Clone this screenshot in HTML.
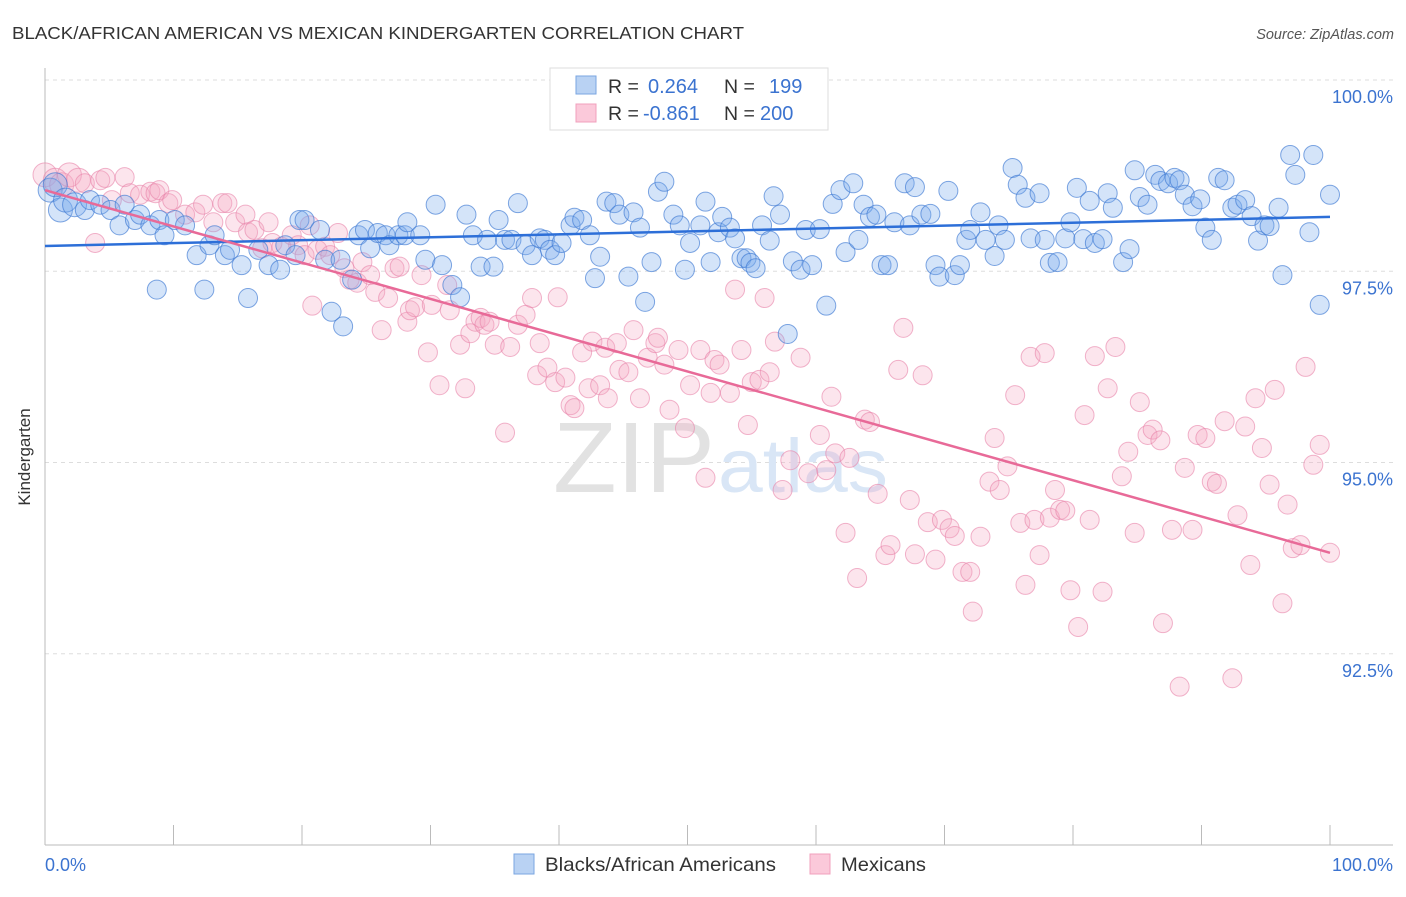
<!DOCTYPE html>
<html><head><meta charset="utf-8"><style>
body{margin:0;background:#fff;font-family:"Liberation Sans",sans-serif;}
svg text{font-family:"Liberation Sans",sans-serif;}
</style></head><body>
<svg id="chart" width="1406" height="892" xmlns="http://www.w3.org/2000/svg">
<text x="12" y="39" font-size="17.5" fill="#333" textLength="732" lengthAdjust="spacingAndGlyphs">BLACK/AFRICAN AMERICAN VS MEXICAN KINDERGARTEN CORRELATION CHART</text>
<text x="1394" y="39" font-size="14.5" fill="#555" font-style="italic" text-anchor="end">Source: ZipAtlas.com</text>
<g id="grid"></g>
<text x="553" y="492" font-size="100" font-family="Liberation Serif" fill="#e2e2e2" textLength="162" lengthAdjust="spacingAndGlyphs">ZIP</text>
<text x="718" y="492" font-size="76" fill="#d9e6f6" textLength="170" lengthAdjust="spacingAndGlyphs">atlas</text>
<g id="marks"></g>
<text x="30" y="457" font-size="17" fill="#333" text-anchor="middle" transform="rotate(-90 30 457)">Kindergarten</text>
<g>
<rect x="550" y="68" width="278" height="62" fill="#fff" stroke="#ddd"/>
<rect x="576" y="76" width="20" height="18" fill="#b9d2f3" stroke="#7aa6e2"/>
<rect x="576" y="104" width="20" height="18" fill="#fbc9da" stroke="#f0a0bc"/>
<text x="608" y="93" font-size="19.5" fill="#333">R =</text>
<text x="648" y="93" font-size="20" fill="#3b73d0">0.264</text>
<text x="724" y="93" font-size="19.5" fill="#333">N =</text>
<text x="769" y="93" font-size="20" fill="#3b73d0">199</text>
<text x="608" y="120" font-size="19.5" fill="#333">R =</text>
<text x="643" y="120" font-size="20" fill="#3b73d0">-0.861</text>
<text x="724" y="120" font-size="19.5" fill="#333">N =</text>
<text x="760" y="120" font-size="20" fill="#3b73d0">200</text>
</g>
<g>
<rect x="514" y="854" width="20" height="20" fill="#b9d2f3" stroke="#7aa6e2"/>
<text x="545" y="871" font-size="19.5" fill="#333" textLength="231" lengthAdjust="spacingAndGlyphs">Blacks/African Americans</text>
<rect x="810" y="854" width="20" height="20" fill="#fbc9da" stroke="#f0a0bc"/>
<text x="841" y="871" font-size="19.5" fill="#333" textLength="85" lengthAdjust="spacingAndGlyphs">Mexicans</text>
</g>
</svg>
<script>
const yTicks=[100,97.5,95,92.5];
const yTickLabels=["100.0%","97.5%","95.0%","92.5%"];
const xTickLabels=["0.0%","100.0%"];
const blueX=[0.4,0.8,1.2,1.6,2.3,3.1,3.5,4.3,5.1,5.8,6.2,7.0,7.4,8.2,8.9,9.3,10.1,10.9,8.7,12.4,11.8,12.8,13.2,14.0,14.4,15.3,15.8,16.6,17.4,18.3,18.7,19.5,19.8,20.2,21.4,21.8,22.3,23.2,23.0,23.9,24.4,24.9,25.3,25.9,26.5,26.8,27.5,28.0,28.2,29.2,29.6,30.4,30.9,31.7,32.3,32.8,33.3,33.9,34.4,34.9,35.3,35.8,36.3,36.8,37.4,37.9,38.5,38.9,39.3,39.7,40.2,40.9,41.2,41.8,42.4,42.8,43.2,43.7,44.3,44.7,45.4,45.8,46.3,46.7,47.2,47.7,48.2,48.9,49.4,49.8,50.2,51.0,51.4,51.8,52.4,52.7,53.3,53.7,54.2,54.6,54.9,55.3,55.8,56.4,56.7,57.2,57.8,58.2,58.8,59.2,59.7,60.3,60.8,61.3,61.9,62.3,62.9,63.3,63.7,64.2,64.7,65.1,65.6,66.1,66.9,67.3,67.7,68.2,68.9,69.3,69.6,70.3,70.8,71.2,71.7,72.0,72.8,73.2,73.9,74.2,74.7,75.3,75.7,76.3,76.7,77.4,77.8,78.2,78.8,79.4,79.8,80.3,80.8,81.3,81.7,82.3,82.7,83.1,83.9,84.4,84.8,85.2,85.8,86.4,86.8,87.4,87.9,88.3,88.7,89.3,89.9,90.3,90.8,91.3,91.8,92.4,92.8,93.4,93.9,94.4,94.9,95.3,96.0,96.3,96.9,97.3,98.4,98.7,99.2,100.0];
const blueY=[98.56,98.63,98.30,98.43,98.37,98.30,98.43,98.37,98.30,98.10,98.37,98.17,98.24,98.10,98.17,97.97,98.17,98.10,97.26,97.26,97.71,97.84,97.97,97.71,97.78,97.58,97.15,97.78,97.58,97.52,97.84,97.71,98.17,98.17,98.04,97.65,96.97,96.78,97.65,97.39,97.97,98.04,97.80,98.00,97.97,97.84,97.97,97.97,98.14,97.97,97.65,98.37,97.58,97.32,97.16,98.24,97.97,97.56,97.91,97.56,98.17,97.91,97.91,98.39,97.84,97.71,97.93,97.91,97.78,97.71,97.87,98.10,98.20,98.17,97.97,97.41,97.69,98.41,98.39,98.24,97.43,98.27,98.07,97.10,97.62,98.54,98.67,98.24,98.10,97.52,97.87,98.10,98.41,97.62,98.01,98.21,98.07,97.93,97.67,97.67,97.61,97.54,98.10,97.90,98.48,98.24,96.68,97.63,97.52,98.04,97.58,98.05,97.05,98.38,98.56,97.75,98.65,97.91,98.37,98.21,98.24,97.58,97.58,98.14,98.65,98.10,98.60,98.24,98.25,97.58,97.43,98.55,97.45,97.58,97.91,98.04,98.27,97.91,97.70,98.10,97.91,98.85,98.63,98.46,97.93,98.52,97.91,97.61,97.62,97.93,98.14,98.59,97.92,98.42,97.87,97.92,98.52,98.33,97.62,97.79,98.82,98.47,98.37,98.76,98.68,98.65,98.72,98.69,98.50,98.35,98.44,98.07,97.91,98.72,98.69,98.33,98.37,98.43,98.22,97.90,98.10,98.09,98.33,97.45,99.02,98.76,98.01,99.02,97.06,98.50];
const pinkX=[0,0.8,1.3,1.9,2.6,3.1,3.9,4.3,4.7,5.2,6.2,6.6,7.4,8.2,8.6,8.9,9.6,9.9,10.9,11.7,12.3,13.1,13.8,14.2,14.8,15.6,15.8,16.3,16.9,17.4,17.7,18.4,19.2,19.7,20.2,20.6,20.8,21.2,21.8,22.2,22.8,23.3,23.7,24.3,24.7,25.3,25.7,26.2,26.7,27.2,27.6,28.2,28.4,28.8,29.3,29.8,30.1,30.7,31.3,31.5,32.3,32.7,33.1,33.5,33.9,34.2,34.6,35.0,35.8,36.2,36.8,37.4,37.9,38.3,38.5,39.1,39.7,39.9,40.5,40.9,41.2,41.8,42.3,42.6,43.2,43.6,43.8,44.5,44.7,45.4,45.8,46.3,46.9,47.5,47.7,48.2,48.6,49.3,49.8,50.2,51.0,51.4,51.8,52.1,52.5,53.3,53.7,54.2,54.7,55.0,55.6,56.0,56.4,56.8,57.4,58.0,58.8,59.4,60.3,60.8,61.2,61.5,62.3,62.6,63.2,63.8,64.2,64.8,65.4,65.8,66.4,66.8,67.3,67.7,68.3,68.7,69.3,69.8,70.4,70.8,71.4,72.0,72.2,72.8,73.5,73.9,74.3,74.9,75.5,75.9,76.3,76.7,77.0,77.4,77.8,78.2,78.6,79.0,79.4,79.8,80.4,80.9,81.3,81.7,82.3,82.7,83.3,83.8,84.3,84.8,85.2,85.8,86.2,86.8,87.0,87.7,88.3,88.7,89.3,89.7,90.3,90.8,91.2,91.8,92.4,92.8,93.4,93.8,94.2,94.7,95.3,95.7,96.3,96.7,97.1,97.7,98.1,98.7,99.2,100.0];
const pinkY=[98.76,98.69,98.63,98.76,98.69,98.65,97.87,98.69,98.72,98.43,98.73,98.52,98.50,98.54,98.52,98.56,98.39,98.43,98.24,98.27,98.37,98.14,98.39,98.39,98.14,98.24,98.01,98.04,97.80,98.14,97.87,97.82,97.97,97.84,97.71,98.10,97.05,97.78,97.82,97.71,98.00,97.54,97.39,97.35,97.62,97.45,97.23,96.73,97.15,97.54,97.56,96.84,96.99,97.03,97.45,96.44,97.06,96.01,97.32,96.99,96.54,95.97,96.69,96.84,96.89,96.80,96.84,96.54,95.39,96.51,96.80,96.93,97.15,96.14,96.56,96.24,96.05,97.16,96.11,95.75,95.71,96.44,95.97,96.58,96.01,96.50,95.84,96.56,96.21,96.18,96.73,95.84,96.37,96.56,96.63,96.28,95.69,96.47,95.45,96.01,96.47,94.80,95.91,96.34,96.28,95.91,97.26,96.47,95.49,96.05,96.08,97.15,96.18,96.58,94.64,95.03,96.37,94.86,95.36,94.90,95.86,95.12,94.08,95.06,93.49,95.56,95.53,94.59,93.79,93.92,96.21,96.76,94.51,93.80,96.14,94.22,93.73,94.25,94.14,94.04,93.57,93.57,93.05,94.03,94.75,95.32,94.64,94.95,95.88,94.21,93.40,96.38,94.25,93.79,96.43,94.28,94.64,94.38,94.37,93.33,92.85,95.62,94.25,96.39,93.31,95.97,96.51,94.82,95.14,94.08,95.79,95.36,95.43,95.29,92.90,94.12,92.07,94.93,94.12,95.36,95.32,94.75,94.72,95.54,92.18,94.31,95.47,93.66,95.84,95.19,94.71,95.95,93.16,94.45,93.88,93.92,96.25,94.97,95.23,93.82];
const blueTrend=[97.83,98.21];
const pinkTrend=[98.56,93.82];

const X0=45,X1=1330,Y0=80,Y1=845,YMIN=90,YMAX=100;
const xs=v=>X0+(v/100)*(X1-X0);
const ys=v=>Y0+(YMAX-v)/(YMAX-YMIN)*(Y1-Y0);
const NS="http://www.w3.org/2000/svg";
const grid=document.getElementById('grid');
const marks=document.getElementById('marks');
function mk(tag,attrs,parent){const e=document.createElementNS(NS,tag);for(const k in attrs)e.setAttribute(k,attrs[k]);parent.appendChild(e);return e;}
yTicks.forEach((t,i)=>{
  const l=mk('line',{x1:X0,x2:1393,y1:ys(t),y2:ys(t),stroke:'#ddd','stroke-dasharray':'4 4'},grid);
  
  
  const tx=mk('text',{x:1393,y:ys(t)+23,'font-size':18,fill:'#3b73d0','text-anchor':'end'},grid);
  tx.textContent=yTickLabels[i];
  
  
});
const ax=mk('line',{x1:X0,x2:X0,y1:68,y2:Y1,stroke:'#bbb'},grid);


const bx=mk('line',{x1:X0,x2:1393,y1:Y1,y2:Y1,stroke:'#bbb'},grid);


for(let i=0;i<=10;i++){
  const t=mk('line',{x1:xs(i*10),x2:xs(i*10),y1:Y1,y2:Y1-20,stroke:'#bbb'},grid);
  
  
}
[[0,'start',45],[100,'end',1393]].forEach((d,i)=>{
  const tx=mk('text',{x:d[2],y:871,'font-size':18,fill:'#3b73d0','text-anchor':d[1]},grid);
  tx.textContent=xTickLabels[i];
  
  
});
function pts(X,Y,fill,stroke,name){
  X.forEach((x,i)=>{
    const r=(x<3)?12:9.5;
    const c=mk('circle',{cx:xs(x),cy:ys(Y[i]),r:r,fill:fill,stroke:stroke,'stroke-width':1},marks);
    
    
  });
}
pts(pinkX,pinkY,'rgba(245,170,195,0.3)','rgba(232,130,168,0.6)','mexican-point');
pts(blueX,blueY,'rgba(120,170,235,0.32)','rgba(60,120,210,0.65)','black-point');
const bl=mk('line',{x1:xs(0),y1:ys(blueTrend[0]),x2:xs(100),y2:ys(blueTrend[1]),stroke:'#2d6fd8','stroke-width':2.5},marks);


const pl=mk('line',{x1:xs(0),y1:ys(pinkTrend[0]),x2:xs(100),y2:ys(pinkTrend[1]),stroke:'#e86a98','stroke-width':2.5},marks);


</script>
</body></html>
